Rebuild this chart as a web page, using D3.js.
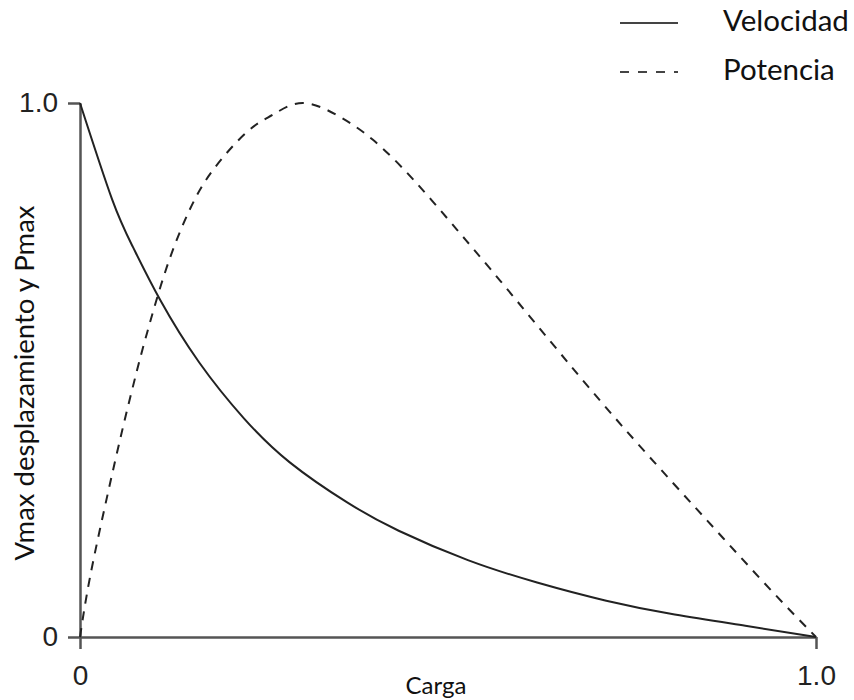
<!DOCTYPE html>
<html>
<head>
<meta charset="utf-8">
<script src="https://cdn.jsdelivr.net/npm/d3@7"></script>
<style>
  body { margin: 0; background: #fff; }
  .lbl { font-family: Lato, "Open Sans", sans-serif; fill: #111; }
</style>
</head>
<body>
<div id="chart"></div>
<script>
// data ------------------------------------------------------
var cargaV = [0, 0.0435, 0.072, 0.109, 0.162, 0.223, 0.285, 0.363, 0.433, 0.527, 0.621, 0.715, 0.808, 0.904, 1.0];
var velocidad = [1.0, 0.820, 0.730, 0.631, 0.514, 0.409, 0.327, 0.252, 0.199, 0.144, 0.102, 0.068, 0.042, 0.021, 0.0];

var cargaP = [0, 0.0136, 0.0367, 0.0584, 0.0774, 0.091, 0.118, 0.149, 0.181, 0.227, 0.262, 0.303, 0.353, 0.398, 0.452, 0.512, 0.571, 0.666, 0.736, 0.806, 0.874, 0.942, 1.0];
var potencia = [0, 0.112, 0.262, 0.393, 0.499, 0.569, 0.693, 0.800, 0.875, 0.946, 0.978, 1.0, 0.974, 0.931, 0.858, 0.763, 0.667, 0.509, 0.396, 0.288, 0.185, 0.083, 0.0];

var tickVals = [0, 1];
var tickLabels = ["0", "1.0"];
var legendNames = ["Velocidad", "Potencia"];

// 1. svg setup ------------------------------------------------
var svgWidth = 854, svgHeight = 700;
var margin = {top: 103, right: 38, bottom: 63, left: 80};
var width = svgWidth - margin.left - margin.right;
var height = svgHeight - margin.top - margin.bottom;

var svg = d3.select("#chart").append("svg")
  .attr("width", svgWidth)
  .attr("height", svgHeight);

var chartGroup = svg.append("g")
  .attr("transform", `translate(${margin.left}, ${margin.top})`);

// 2. scales and axes ------------------------------------------
var xScale = d3.scaleLinear().domain([0, 1]).range([0, width]);
var yScale = d3.scaleLinear().domain([0, 1]).range([height, 0]);

var fmt = d => tickLabels[tickVals.indexOf(d)];

var xAxis = d3.axisBottom(xScale).tickValues(tickVals).tickFormat(fmt)
  .tickSize(12).tickSizeOuter(0).tickPadding(12);
var yAxis = d3.axisLeft(yScale).tickValues(tickVals).tickFormat(fmt)
  .tickSize(12).tickSizeOuter(0).tickPadding(10);

var gx = chartGroup.append("g")
  .attr("transform", `translate(0, ${height})`)
  .call(xAxis);
var gy = chartGroup.append("g").call(yAxis);

[gx, gy].forEach(g => {
  g.attr("font-family", "Liberation Sans, Arial, sans-serif").attr("font-size", 28);
  g.select(".domain").attr("stroke", "#555").attr("stroke-width", 2.5);
  g.selectAll(".tick line").attr("stroke", "#555").attr("stroke-width", 2.5);
  g.selectAll(".tick text").attr("fill", "#222");
});
gx.selectAll(".tick text").attr("dy", "0.85em");

// 3. lines ----------------------------------------------------
var line = d3.line()
  .x(d => xScale(d[0]))
  .y(d => yScale(d[1]))
  .curve(d3.curveNatural);

var velData = cargaV.map((c, i) => [c, velocidad[i]]);
var potData = cargaP.map((c, i) => [c, potencia[i]]);

chartGroup.append("path")
  .datum(potData)
  .attr("d", line)
  .attr("fill", "none")
  .attr("stroke", "#222")
  .attr("stroke-width", 2)
  .attr("stroke-dasharray", "9,8");

chartGroup.append("path")
  .datum(velData)
  .attr("d", line)
  .attr("fill", "none")
  .attr("stroke", "#222")
  .attr("stroke-width", 2);

// 4. axis labels ----------------------------------------------
svg.append("text")
  .attr("class", "lbl")
  .attr("x", 436)
  .attr("y", 694)
  .attr("text-anchor", "middle")
  .style("font-size", "24px")
  .text("Carga");

svg.append("text")
  .attr("class", "lbl")
  .attr("transform", "rotate(-90)")
  .attr("x", -383)
  .attr("y", 34)
  .attr("text-anchor", "middle")
  .style("font-size", "27.5px")
  .text("Vmax desplazamiento y Pmax");

// 5. legend ---------------------------------------------------
var legend = svg.append("g");
legendNames.forEach((name, i) => {
  var y = 23 + i * 49;
  legend.append("line")
    .attr("x1", 620).attr("x2", 678)
    .attr("y1", y).attr("y2", y)
    .attr("stroke", "#444")
    .attr("stroke-width", 2)
    .attr("stroke-dasharray", i == 1 ? "9,9" : null);
  legend.append("text")
    .attr("class", "lbl")
    .attr("x", 723)
    .attr("y", y + 8)
    .style("font-size", "29.5px")
    .text(name);
});
</script>
</body>
</html>
